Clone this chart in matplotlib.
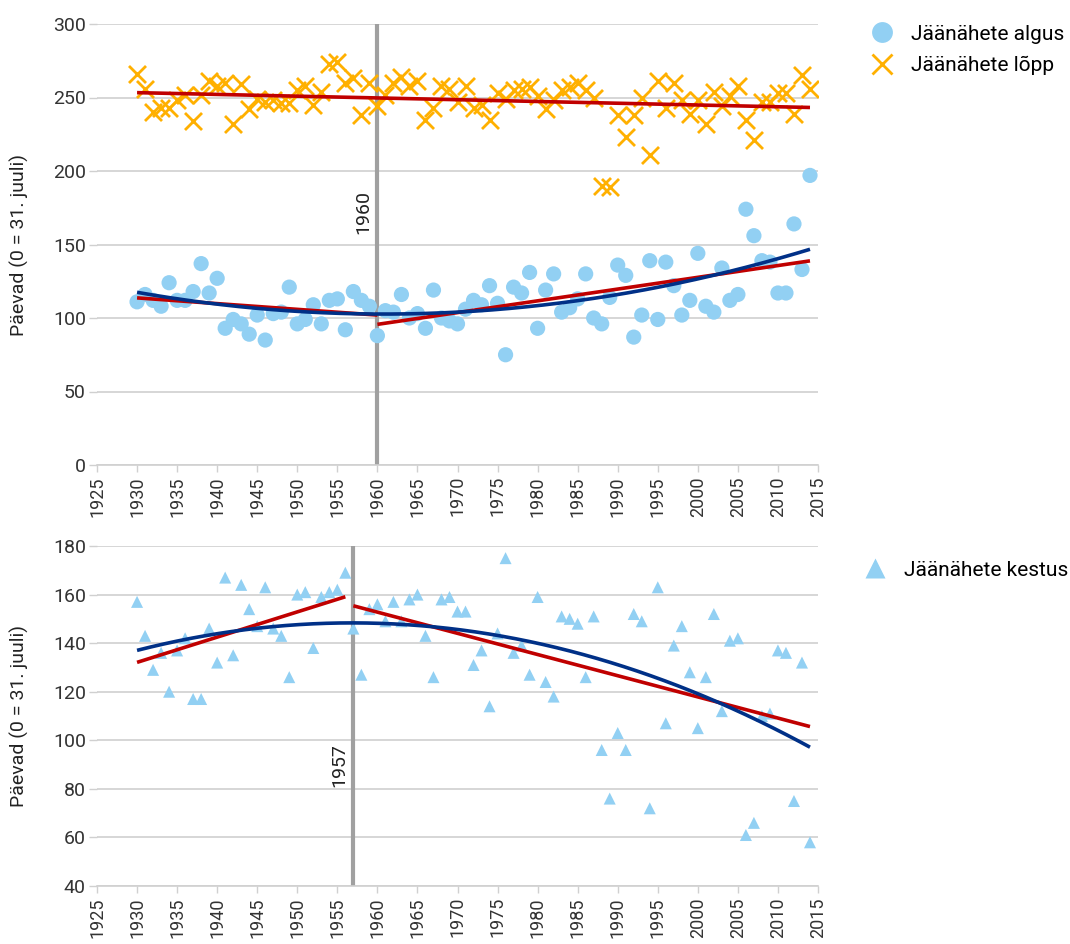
import numpy as np
import matplotlib
matplotlib.use("Agg")
import matplotlib.pyplot as plt
from matplotlib.lines import Line2D

plt.rcParams['font.family'] = ['Roboto', 'DejaVu Sans']

years = np.arange(1930, 2015)

# Jäänähete algus (päevad alates 31. juulist)
algus = [111, 116, 112, 108, 124, 112, 112, 118, 137, 117,
         127, 93, 99, 96, 89, 102, 85, 103, 104, 121,
         96, 99, 109, 96, 112, 113, 92, 118, 112, 108,
         88, 105, 104, 116, 100, 103, 93, 119, 100, 98,
         96, 106, 112, 109, 122, 110, 75, 121, 117, 131,
         93, 119, 130, 104, 107, 113, 130, 100, 96, 114,
         136, 129, 87, 102, 139, 99, 138, 122, 102, 112,
         144, 108, 104, 134, 112, 116, 174, 156, 139, 138,
         117, 117, 164, 133, 197]

# Jäänähete lõpp
lopp = [266, 256, 240, 243, 243, 248, 252, 234, 252, 261,
        258, 260, 232, 259, 242, 249, 247, 248, 246, 246,
        255, 258, 245, 254, 273, 274, 260, 263, 238, 260,
        244, 252, 260, 264, 258, 261, 235, 243, 258, 256,
        247, 258, 243, 245, 235, 253, 249, 255, 256, 257,
        251, 242, 248, 255, 257, 260, 255, 250, 190, 189,
        238, 223, 238, 250, 211, 261, 243, 260, 248, 239,
        248, 232, 254, 244, 251, 258, 235, 221, 247, 247,
        253, 253, 239, 265, 256]

# Jäänähete kestus
kestus = [157, 143, 129, 136, 120, 137, 142, 117, 117, 146,
          132, 167, 135, 164, 154, 147, 163, 146, 143, 126,
          160, 161, 138, 159, 161, 162, 169, 146, 127, 154,
          156, 149, 157, 149, 158, 160, 143, 126, 158, 159,
          153, 153, 131, 137, 114, 144, 175, 136, 139, 127,
          159, 124, 118, 151, 150, 148, 126, 151, 96, 76,
          103, 96, 152, 149, 72, 163, 107, 139, 147, 128,
          105, 126, 152, 112, 141, 142, 61, 66, 110, 111,
          137, 136, 75, 132, 58]

split_top = 1960
split_bottom = 1957

light_blue = '#92D0F3'
orange = '#FFB000'
red = '#C00000'
navy = '#003087'
grid_gray = '#D0D0D0'
line_gray = '#A0A0A0'
text_col = '#333333'

fig = plt.figure(figsize=(10.7, 9.44), dpi=100)
ax1 = fig.add_axes([97 / 1070, 1 - 465 / 944, 721 / 1070, 441 / 944])
ax2 = fig.add_axes([97 / 1070, 1 - 886 / 944, 721 / 1070, 340 / 944])


def style_axis(ax, ylim, yticks):
    ax.set_xlim(1925, 2015)
    ax.set_ylim(*ylim)
    ax.set_yticks(yticks)
    ax.set_xticks(np.arange(1925, 2016, 5))
    ax.tick_params(axis='x', labelrotation=90, labelsize=13, colors=text_col,
                   length=5, width=1, color=grid_gray, pad=3)
    ax.tick_params(axis='y', labelsize=14, colors=text_col, length=6,
                   width=1, color=grid_gray, pad=2)
    ax.grid(axis='y', color=grid_gray, linewidth=1.2)
    ax.set_axisbelow(True)
    for s in ['top', 'right', 'left']:
        ax.spines[s].set_visible(False)
    ax.spines['bottom'].set_color(grid_gray)
    ax.spines['bottom'].set_linewidth(1.2)
    ax.set_ylabel('Päevad (0 = 31. juuli)', fontsize=14, color='#222222', labelpad=17)


def fit_line(ax, x, y, deg, color, x0=None, x1=None):
    x = np.asarray(x, dtype=float)
    y = np.asarray(y, dtype=float)
    c = np.polyfit(x, y, deg)
    xs = np.linspace(x.min() if x0 is None else x0, x.max() if x1 is None else x1, 200)
    ax.plot(xs, np.polyval(c, xs), color=color, linewidth=2.6, zorder=4,
            solid_capstyle='butt')


algus = np.array(algus)
lopp = np.array(lopp)
kestus = np.array(kestus)

# Ülemine paneel: algus ja lõpp
style_axis(ax1, (0, 300), np.arange(0, 301, 50))
ax1.axvline(split_top, color=line_gray, linewidth=3, zorder=2)
ax1.text(split_top - 1.7, 172, str(split_top), rotation=90, fontsize=14,
         color='#222222', ha='center', va='center')
ax1.scatter(years, algus, s=120, color=light_blue, edgecolors='none', zorder=3)
ax1.scatter(years, lopp, s=150, marker='x', color=orange, linewidths=2, zorder=3)

fit_line(ax1, years, lopp, 1, red)
m1 = years < split_top
fit_line(ax1, years[m1], algus[m1], 1, red, 1930, split_top)
fit_line(ax1, years[~m1], algus[~m1], 1, red)
fit_line(ax1, years, algus, 2, navy)

# Alumine paneel: kestus
style_axis(ax2, (40, 180), np.arange(40, 181, 20))
ax2.axvline(split_bottom, color=line_gray, linewidth=3, zorder=2)
ax2.text(split_bottom - 1.7, 90, str(split_bottom), rotation=90, fontsize=14,
         color='#222222', ha='center', va='center')
ax2.scatter(years, kestus, s=75, marker='^', color=light_blue, edgecolors='none', zorder=3)

m2 = years < split_bottom
fit_line(ax2, years[m2], kestus[m2], 1, red)
fit_line(ax2, years[~m2], kestus[~m2], 1, red)
fit_line(ax2, years, kestus, 2, navy)

# Legendid
h_algus = Line2D([], [], marker='o', linestyle='none', markersize=15,
                 markerfacecolor=light_blue, markeredgecolor='none')
h_lopp = Line2D([], [], marker='x', linestyle='none', markersize=15,
                markeredgecolor=orange, markeredgewidth=2)
fig.legend([h_algus, h_lopp], ['Jäänähete algus', 'Jäänähete lõpp'],
           loc='upper left', bbox_to_anchor=(842 / 1070, 1 - 6 / 944),
           frameon=False, fontsize=15, handletextpad=0.4, labelspacing=0.6)
h_kestus = Line2D([], [], marker='^', linestyle='none', markersize=15,
                  markerfacecolor=light_blue, markeredgecolor='none')
fig.legend([h_kestus], ['Jäänähete kestus'],
           loc='upper left', bbox_to_anchor=(835 / 1070, 1 - 542 / 944),
           frameon=False, fontsize=15, handletextpad=0.4)

fig.savefig('out.png', dpi=100)
